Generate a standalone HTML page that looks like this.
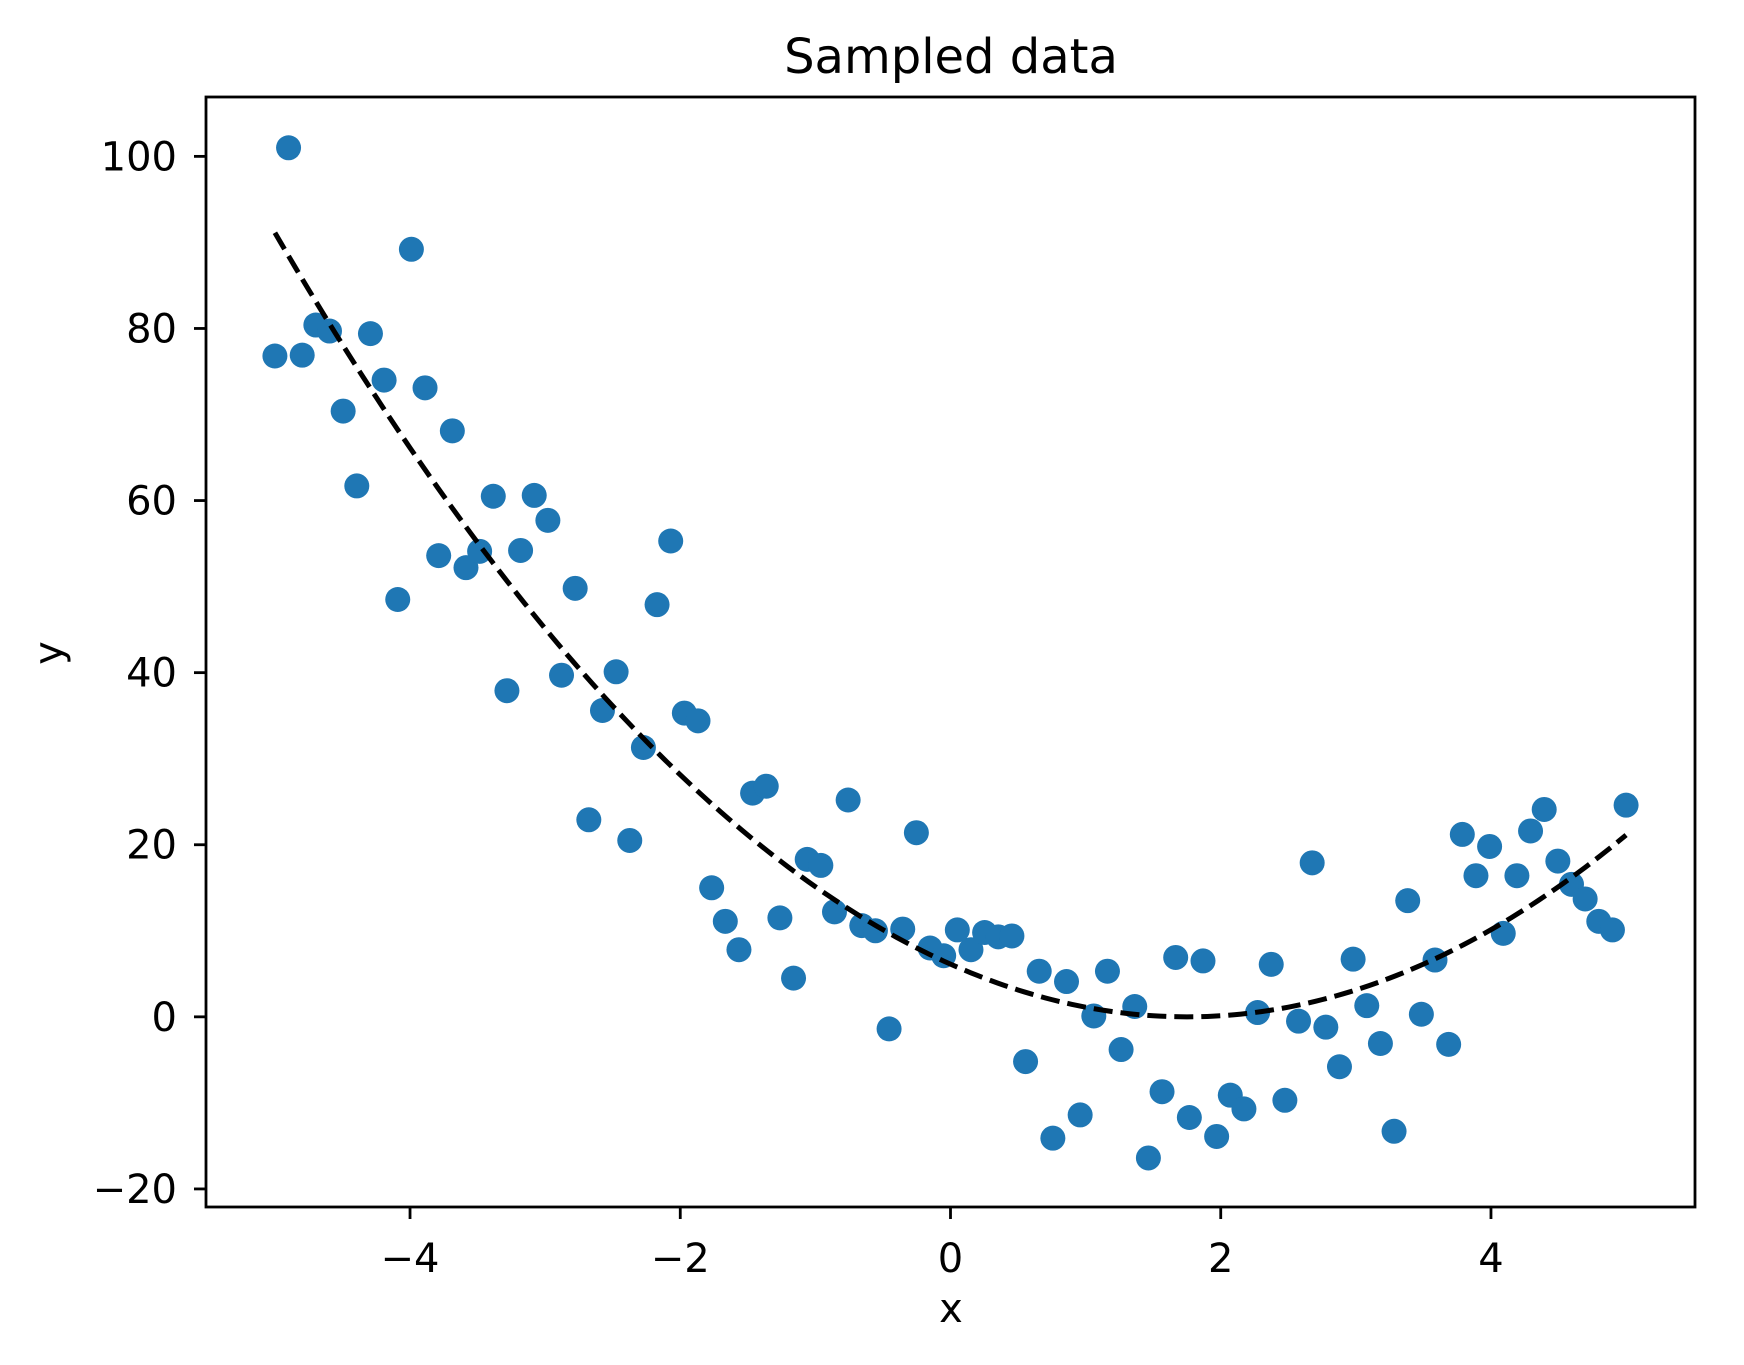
<!DOCTYPE html>
<html><head><meta charset="utf-8"><style>
html,body{margin:0;padding:0;background:#fff;}
svg{display:block;font-family:"DejaVu Sans","Liberation Sans",sans-serif;}
</style></head><body>
<svg id="chart" width="1744" height="1365" viewBox="0 0 1744 1365" xmlns="http://www.w3.org/2000/svg">
<rect width="1744" height="1365" fill="#fff"/>
<text x="951" y="73" font-size="48" text-anchor="middle">Sampled data</text>
<g id="plot"></g>
<text x="951" y="1322" font-size="40" text-anchor="middle">x</text>
<text x="0" y="0" font-size="40" text-anchor="middle" transform="translate(62,653) rotate(-90)">y</text>
</svg>
<script>
const yValues = [76.8,101,76.9,80.4,79.7,70.4,61.7,79.4,74.0,48.5,89.2,73.1,53.6,68.1,52.2,54.1,60.5,37.9,54.2,60.6,
57.7,39.7,49.8,22.9,35.6,40.1,20.5,31.3,47.9,55.3,35.3,34.4,15.0,11.1,7.8,26.0,26.8,11.5,4.5,18.3,
17.6,12.2,25.2,10.6,10.0,-1.4,10.2,21.4,8.0,7.1,10.1,7.8,9.8,9.3,9.4,-5.2,5.3,-14.1,4.1,-11.4,
0.1,5.3,-3.8,1.2,-16.4,-8.7,6.9,-11.7,6.5,-13.9,-9.1,-10.7,0.5,6.1,-9.7,-0.5,17.9,-1.2,-5.8,6.7,
1.3,-3.1,-13.3,13.5,0.3,6.6,-3.2,21.2,16.4,19.8,9.7,16.4,21.6,24.1,18.1,15.4,13.7,11.1,10.1,24.6];
const xRange = [-5, 5];
const fitCoeffs = [2.0, 1.75, 0]; // a, h, k : y = a(x-h)^2 + k
const xTicks = [-4,-2,0,2,4];
const xTickLabels = ["\u22124","\u22122","0","2","4"];
const yTicks = [-20,0,20,40,60,80,100];
const yTickLabels = ["\u221220","0","20","40","60","80","100"];

const L=206,R=1695,T=97,B=1207;
const xMin=-5.51,xMax=5.51,yMin=-22.1,yMax=106.9;
const sx=v=>L+(v-xMin)/(xMax-xMin)*(R-L);
const sy=v=>B-(v-yMin)/(yMax-yMin)*(B-T);
const NS="http://www.w3.org/2000/svg";
const svg=document.getElementById('chart');
const g=document.getElementById('plot');
function mk(tag,attrs,parent){const e=document.createElementNS(NS,tag);for(const k in attrs)e.setAttribute(k,attrs[k]);(parent||g).appendChild(e);return e;}

const n=yValues.length;
yValues.forEach((v,i)=>{
  const x=xRange[0]+(xRange[1]-xRange[0])*i/(n-1);
  const c=mk('circle',{cx:sx(x),cy:sy(v),r:12.5,fill:'#1f77b4'});
  
  
});
let d='';
for(let i=0;i<=200;i++){
  const x=xRange[0]+(xRange[1]-xRange[0])*i/200;
  const y=fitCoeffs[0]*(x-fitCoeffs[1])**2+fitCoeffs[2];
  d+=(i?'L':'M')+sx(x).toFixed(2)+','+sy(y).toFixed(2);
}
const fl=mk('path',{d:d,fill:'none',stroke:'#000','stroke-width':5,'stroke-dasharray':'19,8'});



const fr=mk('rect',{x:L,y:T,width:R-L,height:B-T,fill:'none',stroke:'#000','stroke-width':2.8},svg);



xTicks.forEach((t,i)=>{
  const x=sx(t);
  const tk=mk('line',{x1:x,x2:x,y1:B,y2:B+12,stroke:'#000','stroke-width':2.8},svg);
  
  
  const tl=mk('text',{x:x,y:1272,'font-size':40,'text-anchor':'middle'},svg);
  tl.textContent=xTickLabels[i];
  
  
});
yTicks.forEach((t,i)=>{
  const y=sy(t);
  const tk=mk('line',{x1:L-12,x2:L,y1:y,y2:y,stroke:'#000','stroke-width':2.8},svg);
  
  
  const tl=mk('text',{x:177,y:y+14,'font-size':40,'text-anchor':'end'},svg);
  tl.textContent=yTickLabels[i];
  
  
});
</script>
</body></html>
